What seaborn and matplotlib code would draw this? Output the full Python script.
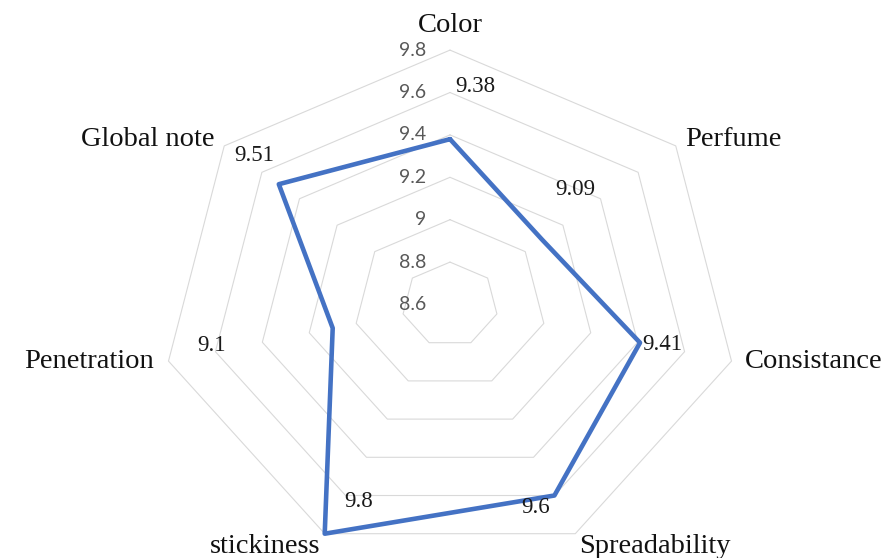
import numpy as np
import pandas as pd
import matplotlib
matplotlib.use("Agg")
import matplotlib.pyplot as plt
import seaborn as sns

# Sensory evaluation scores per attribute
categories = ["Color", "Perfume", "Consistance", "Spreadability",
              "stickiness", "Penetration", "Global note"]
scores = [9.38, 9.09, 9.41, 9.6, 9.8, 9.1, 9.51]
tick_values = [8.6, 8.8, 9.0, 9.2, 9.4, 9.6, 9.8]
tick_labels = ["8.6", "8.8", "9", "9.2", "9.4", "9.6", "9.8"]

r_min, r_max = 8.6, 9.8

sns.set_theme(style="white")
plt.rcParams["font.family"] = ["Liberation Serif", "DejaVu Serif"]

W, H, DPI = 894, 558, 100
fig = plt.figure(figsize=(W / DPI, H / DPI), dpi=DPI)
ax = fig.add_axes([0, 0, 1, 1])
ax.set_axis_off()

# Radar laid out in cartesian space; the x direction is drawn wider than y
cx_px, cy_px = 450, 304.5
unit_y = 212.0
unit_x = unit_y * 1.135
ax.set_xlim(-cx_px / unit_x, (W - cx_px) / unit_x)
ax.set_ylim(-(H - cy_px) / unit_y, cy_px / unit_y)

n = len(categories)
theta = np.pi / 2 - np.arange(n) * 2 * np.pi / n


def to_xy(vals):
    r = np.asarray(vals, dtype=float) - r_min
    return r * np.cos(theta), r * np.sin(theta)


# Heptagonal gridlines
for v in tick_values[1:]:
    gx, gy = to_xy([v] * n)
    ax.plot(np.append(gx, gx[0]), np.append(gy, gy[0]),
            color="#D9D9D9", lw=0.8, zorder=1)

# Radial tick labels along the top axis
for v, lab in zip(tick_values, tick_labels):
    ax.annotate(lab, (0, v - r_min), xytext=(-24, 0), textcoords="offset pixels",
                ha="right", va="center", fontsize=14, color="#595959",
                family=["Lato", "DejaVu Sans"])

# Data polygon
px, py = to_xy(scores)
df = pd.DataFrame({"x": np.append(px, px[0]), "y": np.append(py, py[0]),
                   "order": np.arange(n + 1)})
sns.lineplot(data=df, x="x", y="y", sort=False, estimator=None, ax=ax,
             color="#4472C4", lw=3.3, zorder=3)
ax.set_xlabel("")
ax.set_ylabel("")

# Value labels
value_offsets = [(25, 53), (33, 50), (22, -2), (-19, -12),
                 (34, 32), (-121, -17), (-25, 29)]
for xv, yv, s, off in zip(px, py, scores, value_offsets):
    ax.annotate(f"{s:g}", (xv, yv), xytext=off, textcoords="offset pixels",
                ha="center", va="center", fontsize=16.5, color="#1a1a1a")

# Category labels around the outer ring
ox, oy = to_xy([r_max] * n)
cat_style = [((0, 12), "center", "bottom"),
             ((9, 6), "left", "center"),
             ((13, 0), "left", "center"),
             ((4, 0), "left", "top"),
             ((-4, 0), "right", "top"),
             ((-15, 0), "right", "center"),
             ((-10, 6), "right", "center")]
for xv, yv, name, (off, ha, va) in zip(ox, oy, categories, cat_style):
    ax.annotate(name, (xv, yv), xytext=off, textcoords="offset pixels",
                ha=ha, va=va, fontsize=20.5, color="#111111")

fig.savefig("out.png", dpi=DPI)
